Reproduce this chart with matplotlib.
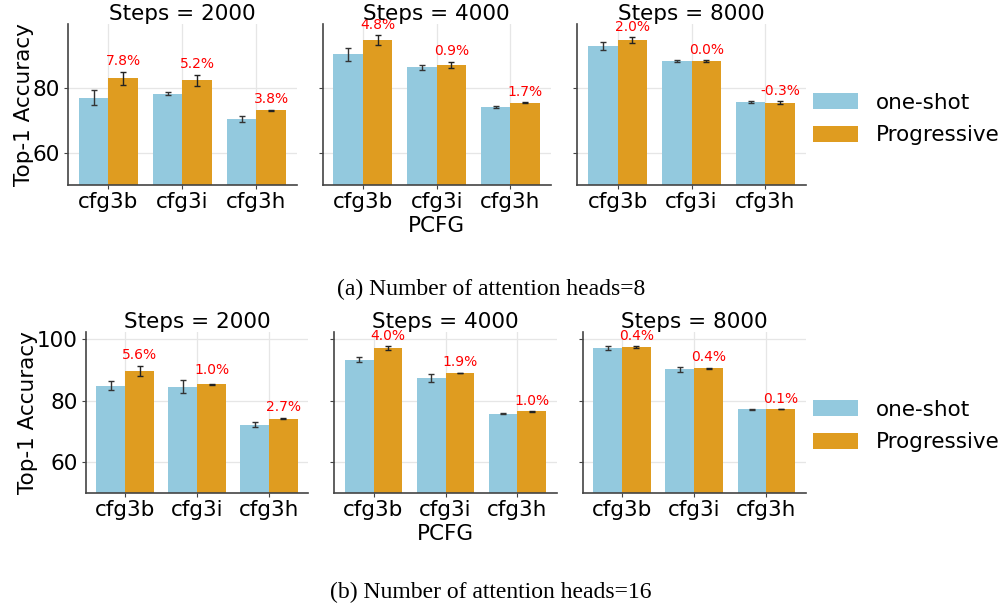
import matplotlib
matplotlib.use("Agg")
import matplotlib.pyplot as plt
import numpy as np

# data -------------------------------------------------------------
categories = ["cfg3b", "cfg3i", "cfg3h"]
steps = [2000, 4000, 8000]
series_names = ["one-shot", "Progressive"]
captions = ["(a) Number of attention heads=8", "(b) Number of attention heads=16"]

# heads = 8 : rows are steps, columns are categories
oneshot_8 = [[77.0, 78.2, 70.3],
             [90.4, 86.35, 74.15],
             [92.9, 88.3, 75.7]]
oneshot_8_err = [[2.4, 0.4, 0.9],
                 [2.0, 0.8, 0.3],
                 [1.3, 0.2, 0.3]]
prog_8 = [[83.0, 82.3, 73.0],
          [94.75, 87.1, 75.4],
          [94.77, 88.32, 75.45]]
prog_8_err = [[2.0, 1.8, 0.3],
              [1.6, 1.0, 0.1],
              [0.8, 0.3, 0.5]]

# heads = 16
oneshot_16 = [[84.9, 84.5, 72.25],
              [93.35, 87.35, 75.75],
              [97.0, 90.2, 77.15]]
oneshot_16_err = [[1.5, 2.1, 0.8],
                  [0.8, 1.2, 0.15],
                  [0.6, 0.8, 0.2]]
prog_16 = [[89.65, 85.35, 74.2],
           [97.1, 89.0, 76.5],
           [97.4, 90.55, 77.25]]
prog_16_err = [[1.7, 0.2, 0.3],
               [0.7, 0.1, 0.1],
               [0.2, 0.2, 0.1]]

rows = [
    (oneshot_8, oneshot_8_err, prog_8, prog_8_err, (50, 99.7), [60, 80]),
    (oneshot_16, oneshot_16_err, prog_16, prog_16_err, (50, 102.3), [60, 80, 100]),
]

# style ------------------------------------------------------------
c_one = "#93c9de"
c_prog = "#df9c20"
fs = 15.5
W, H = 1005, 613

fig = plt.figure(figsize=(W / 100, H / 100), dpi=100)

# axes rectangles in pixels: (left, right, top, bottom)
row_px = [
    [(68, 296.7, 24, 185), (322.7, 550.7, 24, 185), (577.3, 805.7, 24, 185)],
    [(86, 308.3, 332, 493), (334.3, 556.7, 332, 493), (582.7, 805.7, 332, 493)],
]
legend_y = [119, 426]
caption_y = [289, 592]

x = np.arange(len(categories))
bw = 0.4

for r, (one, one_e, prog, prog_e, ylim, yt) in enumerate(rows):
    for c, st in enumerate(steps):
        l, rt, t, b = row_px[r][c]
        ax = fig.add_axes([l / W, 1 - b / H, (rt - l) / W, (b - t) / H])
        ax.set_axisbelow(True)
        ax.grid(True, color="#e6e6e6", lw=0.9)
        b1 = ax.bar(x - bw / 2, one[c], bw, color=c_one, label=series_names[0])
        b2 = ax.bar(x + bw / 2, prog[c], bw, color=c_prog, label=series_names[1])
        ax.errorbar(x - bw / 2, one[c], yerr=one_e[c], fmt="none",
                    ecolor="#333333", elinewidth=1, capsize=2)
        ax.errorbar(x + bw / 2, prog[c], yerr=prog_e[c], fmt="none",
                    ecolor="#222222", elinewidth=1, capsize=2)
        # relative gain of progressive over one-shot
        for i in range(len(categories)):
            gain = (prog[c][i] - one[c][i]) / one[c][i] * 100
            top = max(one[c][i] + one_e[c][i], prog[c][i] + prog_e[c][i])
            ax.annotate(f"{gain:.1f}%", (x[i] + bw / 2, top), xytext=(0, 4.5),
                        textcoords="offset points", ha="center", va="baseline",
                        color="red", fontsize=10)
        ax.set_xlim(-0.545, 2.545)
        ax.set_ylim(*ylim)
        ax.set_xticks(x)
        ax.set_xticklabels(categories, fontsize=fs)
        ax.set_yticks(yt)
        ax.tick_params(axis="both", length=3, width=0.8, color="#444444")
        ax.tick_params(axis="x", pad=2)
        ax.tick_params(axis="y", pad=3, labelsize=fs)
        if c > 0:
            ax.set_yticklabels([])
        else:
            ax.set_ylabel("Top-1 Accuracy", fontsize=fs, labelpad=-1)
        if c == 1:
            ax.set_xlabel("PCFG", fontsize=fs, labelpad=3)
        ax.set_title(f"Steps = {st}", fontsize=fs, pad=3)
        for s in ["top", "right"]:
            ax.spines[s].set_visible(False)
        for s in ["left", "bottom"]:
            ax.spines[s].set_color("#444444")
            ax.spines[s].set_linewidth(1.2)

    fig.legend([b1, b2], series_names, loc="center left",
               bbox_to_anchor=(812.7 / W, 1 - legend_y[r] / H),
               frameon=False, fontsize=fs, borderpad=0, borderaxespad=0,
               handlelength=2.1, handleheight=0.75, handletextpad=0.85,
               labelspacing=0.6)
    fig.text(491 / W, 1 - caption_y[r] / H, captions[r], ha="center", va="center",
             family="Liberation Serif", fontsize=17)

fig.savefig("out.png", dpi=100)
